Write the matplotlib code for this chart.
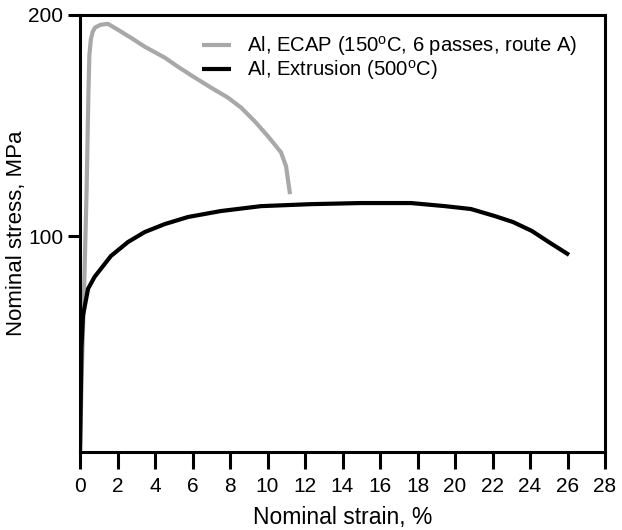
import matplotlib
matplotlib.use("Agg")
import matplotlib.pyplot as plt

plt.rcParams['font.family'] = ['Liberation Sans', 'DejaVu Sans']
plt.rcParams['mathtext.fontset'] = 'custom'
plt.rcParams['mathtext.rm'] = 'Liberation Sans'

# ECAP (grey) curve: strain %, stress MPa
ecap_strain = [0.0, 0.1, 0.2, 0.35, 0.45, 0.5, 0.58, 0.68, 0.8, 1.1, 1.49, 2.03, 2.72, 3.47,
               4.53, 5.23, 6.13, 6.99, 7.89, 8.59, 9.33, 10.03, 10.72, 10.99, 11.2]
ecap_stress = [2.7, 40, 70, 120, 165, 182, 189, 192.5, 194.3, 195.6, 196.0, 193.3, 189.7, 185.6,
               180.7, 176.6, 171.7, 167.2, 162.7, 158.2, 151.9, 145.2, 138.0, 131.7, 119.1]

# Extrusion (black) curve
ext_strain = [0.0, 0.08, 0.16, 0.43, 0.78, 1.65, 2.56, 3.45, 4.52, 5.76, 7.52, 9.65, 12.32,
              14.99, 17.65, 19.47, 20.85, 22.13, 23.1, 24.1, 25.0, 26.08]
ext_stress = [2.7, 50, 64.3, 76.4, 81.8, 91.2, 97.5, 102.0, 105.6, 108.8, 111.5, 113.7, 114.6,
              115.1, 115.1, 113.7, 112.4, 109.2, 106.5, 102.5, 97.5, 91.7]

labels = ["Al, ECAP (150$^{\\rm o}$C, 6 passes, route A)", "Al, Extrusion (500$^{\\rm o}$C)"]
xticks = list(range(0, 29, 2))
yticks = [100, 200]

fig = plt.figure(figsize=(6.22, 5.30), dpi=100)
ax = fig.add_axes([80/622, 1-452/530, (605-80)/622, (452-15)/530])

ax.plot(ecap_strain, ecap_stress, color='#a8a8a8', lw=3, label=labels[0],
        solid_capstyle='butt', solid_joinstyle='round', zorder=2)
ax.plot(ext_strain, ext_stress, color='black', lw=3, label=labels[1],
        solid_capstyle='butt', solid_joinstyle='round', zorder=3)

ax.set_xlim(0, 28)
ax.set_ylim(2.7, 200)
ax.set_xticks(xticks)
ax.set_yticks(yticks)
for s in ax.spines.values():
    s.set_linewidth(2.2)
ax.tick_params(axis='x', length=12, width=2.2, labelsize=15, pad=6)
ax.tick_params(axis='y', length=9, width=2.2, labelsize=15, pad=3)

ax.set_xlabel("Nominal strain, %", fontsize=16.5, labelpad=7)
ax.set_ylabel("Nominal stress, MPa", fontsize=16, labelpad=1)

leg = ax.legend(loc='upper left', bbox_to_anchor=(0.217, 0.975), frameon=False, fontsize=14.6,
                handlelength=1.45, handletextpad=0.75, labelspacing=0.0, borderaxespad=0)

fig.savefig("out.png", dpi=100)
